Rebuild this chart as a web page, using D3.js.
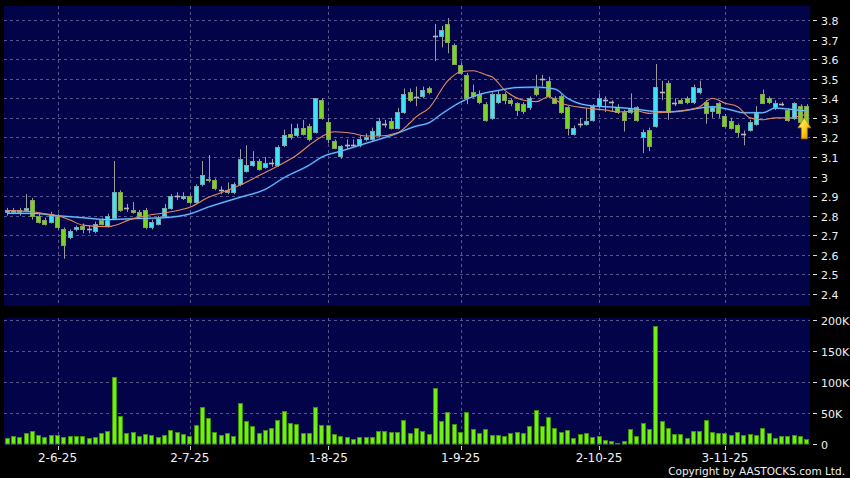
<!DOCTYPE html>
<html><head><meta charset="utf-8">
<script src="https://cdn.jsdelivr.net/npm/d3@7"></script>
<style>html,body{margin:0;padding:0;background:#000;} svg{display:block}</style>
</head><body>
<svg id="c" width="850" height="478"></svg>
<script>
// ---------- DATA ----------
const openP = [2.82,2.82,2.83,2.83,2.88,2.80,2.78,2.77,2.80,2.73, 2.69,2.73,2.75,2.73,2.72,2.78,2.75,2.79,2.92,2.84,
 2.83,2.82,2.83,2.74,2.76,2.80,2.84,2.90,2.89,2.90, 2.87,2.96,2.99,2.98,2.93,2.93,2.92,2.96,3.03,3.06,
 3.08,3.05,3.07,3.06,3.16,3.22,3.21,3.25,3.26,3.23, 3.39,3.28,3.18,3.105,3.16,3.16,3.16,3.19,3.19,3.21,
 3.27,3.285,3.25,3.33,3.43,3.405,3.41,3.45,3.72,3.72, 3.78,3.67,3.57,3.52,3.43,3.42,3.37,3.30,3.38,3.42,
 3.39,3.375,3.37,3.355,3.45,3.50,3.49,3.40,3.41,3.355, 3.22,3.27,3.27,3.29,3.36,3.39,3.38,3.355,3.33,3.33,
 3.355,3.20,3.24,3.26,3.43,3.48,3.375,3.39,3.40,3.38, 3.43,3.38,3.335,3.375,3.31,3.285,3.265,3.22,3.24,3.27,
 3.42,3.40,3.355,3.37,3.34,3.30,3.36,3.36];
const highP = [2.84,2.84,2.84,2.91,2.89,2.81,2.79,2.82,2.81,2.74, 2.73,2.75,2.76,2.75,2.77,2.79,2.81,3.08,2.93,2.86,
 2.87,2.83,2.84,2.78,2.80,2.86,2.91,2.92,2.92,2.91, 2.96,3.08,3.11,2.99,2.95,2.97,2.97,3.14,3.16,3.13,
 3.09,3.10,3.09,3.16,3.24,3.27,3.27,3.29,3.27,3.40, 3.40,3.30,3.19,3.16,3.19,3.19,3.21,3.22,3.25,3.30,
 3.29,3.30,3.35,3.45,3.45,3.46,3.46,3.46,3.78,3.77, 3.81,3.68,3.58,3.53,3.47,3.44,3.38,3.43,3.44,3.43,
 3.40,3.38,3.38,3.41,3.52,3.52,3.51,3.41,3.42,3.36, 3.26,3.30,3.35,3.37,3.425,3.41,3.39,3.37,3.34,3.425,
 3.36,3.24,3.25,3.575,3.49,3.49,3.40,3.40,3.41,3.47, 3.49,3.39,3.36,3.38,3.32,3.30,3.27,3.235,3.29,3.36,
 3.445,3.41,3.39,3.38,3.35,3.38,3.37,3.37];
const lowP = [2.80,2.81,2.80,2.82,2.78,2.76,2.75,2.76,2.73,2.58, 2.68,2.72,2.71,2.71,2.71,2.75,2.74,2.78,2.82,2.82,
 2.81,2.79,2.73,2.73,2.75,2.79,2.83,2.88,2.88,2.86, 2.86,2.95,2.97,2.93,2.91,2.91,2.91,2.95,3.02,3.05,
 3.03,3.04,3.05,3.05,3.15,3.19,3.20,3.21,3.18,3.22, 3.29,3.17,3.14,3.09,3.14,3.15,3.15,3.18,3.18,3.20,
 3.25,3.24,3.24,3.32,3.38,3.36,3.40,3.42,3.59,3.66, 3.63,3.57,3.52,3.37,3.40,3.37,3.28,3.29,3.37,3.37,
 3.36,3.31,3.32,3.34,3.41,3.46,3.40,3.37,3.32,3.21, 3.21,3.25,3.26,3.28,3.35,3.33,3.33,3.32,3.23,3.32,
 3.28,3.12,3.13,3.25,3.39,3.29,3.36,3.37,3.37,3.37, 3.42,3.27,3.30,3.30,3.25,3.24,3.20,3.16,3.23,3.26,
 3.37,3.37,3.34,3.36,3.28,3.29,3.28,3.25];
const closeP = [2.83,2.83,2.82,2.84,2.80,2.77,2.76,2.81,2.74,2.65, 2.72,2.74,2.73,2.73,2.76,2.76,2.80,2.92,2.83,2.84,
 2.82,2.80,2.74,2.77,2.79,2.84,2.90,2.90,2.90,2.87, 2.95,3.01,2.98,2.94,2.93,2.92,2.96,3.09,3.06,3.08,
 3.04,3.07,3.07,3.15,3.21,3.20,3.25,3.22,3.19,3.40, 3.30,3.19,3.145,3.155,3.16,3.16,3.19,3.20,3.235,3.285,
 3.27,3.25,3.33,3.42,3.39,3.405,3.44,3.43,3.72,3.75, 3.69,3.575,3.53,3.40,3.41,3.38,3.29,3.42,3.42,3.39,
 3.375,3.34,3.335,3.40,3.42,3.50,3.41,3.375,3.33,3.25, 3.25,3.27,3.285,3.36,3.40,3.39,3.38,3.33,3.29,3.345,
 3.29,3.23,3.155,3.46,3.43,3.33,3.375,3.375,3.38,3.46, 3.45,3.325,3.355,3.325,3.26,3.25,3.23,3.22,3.28,3.33,
 3.375,3.38,3.375,3.37,3.29,3.375,3.28,3.27];
const volumeK = [9,12,10,17,20,14,10,14.5,14,10, 12.5,11.5,12,8.5,10,17.5,20.5,108,44.5,16.5,
 19,12,16,13,10,13,21,18,15,11.5, 29.5,58.5,41,19,13,17,11.5,65,36,28,
 16.5,21,25,37.5,52.5,33,31.5,17.5,16.5,59, 29.5,30.5,15,11.5,10,7,10,11,11,19.5,
 19.5,18,18,37.5,16.5,25,20.5,15,90,36.5, 51.5,32,18,50.5,24,16.5,23.5,14.5,13,11.5,
 17.5,18.5,17.5,28,53.5,29,43,24.5,18,21.5, 9,15,16.5,10.5,12.5,5.5,4,1.5,3.5,23,
 12,33,24,190,36,25.5,15,16,9,19.5, 20.5,37.5,18.5,17.5,17.5,13,18,14.5,16,14,
 24.5,17,9,11.5,11.5,14.5,12.5,7];
// moving averages read at selected candle indices
const maFastIdx = [0,4,6,8,10,12,16,20,22,26,29,32,35,37,40,43,46,48,50,52,55,57,59,62,64,65,67,70,72,74,76,77,79,82,84,86,88,92,95,97,100,102,105,107,110,112,114,116,118,120,122,124,127];
const maFastVal = [2.826,2.82,2.81,2.80,2.778,2.752,2.744,2.785,2.80,2.82,2.843,2.894,2.93,2.957,3.005,3.054,3.11,3.161,3.205,3.229,3.22,3.207,3.207,3.224,3.275,3.306,3.35,3.49,3.536,3.541,3.52,3.51,3.442,3.39,3.383,3.408,3.375,3.35,3.34,3.33,3.335,3.323,3.33,3.335,3.357,3.40,3.375,3.357,3.30,3.29,3.30,3.30,3.32];
const maSlowIdx = [0,4,8,12,16,20,25,29,32,37,41,44,48,50,53,57,61,65,67,69,72,75,78,81,84,87,89,92,95,97,100,102,105,107,110,112,115,117,120,122,124,127];
const maSlowVal = [2.812,2.812,2.80,2.79,2.78,2.785,2.79,2.809,2.845,2.894,2.935,2.995,3.059,3.10,3.13,3.17,3.21,3.258,3.275,3.32,3.38,3.42,3.44,3.455,3.457,3.447,3.40,3.365,3.357,3.353,3.344,3.335,3.33,3.335,3.35,3.357,3.34,3.326,3.326,3.35,3.345,3.335];
const xTickIdx = [8,29,51,72,94,114];
const xTickLabels = ["2-6-25","2-7-25","1-8-25","1-9-25","2-10-25","3-11-25"];
const priceTicks = [2.4,2.5,2.6,2.7,2.8,2.9,3.0,3.1,3.2,3.3,3.4,3.5,3.6,3.7,3.8];
const volTicks = [0,50,100,150,200];
const volTickLabels = ["0","50K","100K","150K","200K"];

// ---------- CHART ----------
const svg = d3.select("#c");
const W = 850, H = 478;
const L = 4, R = 810, pT = 6, pB = 306, vT = 318, vB = 445;
const n = openP.length;
const FONT = "DejaVu Sans, Verdana, sans-serif";
const GRID = "#56568c";
const PANEL = "#03034a";
const UP = "#3fe2f2", DOWN = "#78d61e", FLAT = "#b8b8b8";

svg.append("rect").attr("width", W).attr("height", H).attr("fill", "#000");
svg.append("rect").attr("x", L).attr("y", pT).attr("width", R - L).attr("height", pB - pT).attr("fill", PANEL);
svg.append("rect").attr("x", L).attr("y", vT).attr("width", R - L).attr("height", vB - vT).attr("fill", PANEL);

const x = d3.scaleBand().domain(d3.range(n)).range([L, R]).paddingInner(0.2).paddingOuter(0.1);
const cx = i => x(i) + x.bandwidth() / 2;
const xl = d3.scaleLinear().domain([0, n - 1]).range([cx(0), cx(n - 1)]);
const y = d3.scaleLinear().domain([2.4, 3.8]).range([294, 20]);
const yv = d3.scaleLinear().domain([0, 200]).range([443.5, 319.5]);
const px = v => Math.round(v) + 0.5;

// grid
const g = svg.append("g").attr("stroke", GRID).attr("stroke-dasharray", "3,3").attr("stroke-width", 1);
priceTicks.forEach(t => g.append("line").attr("x1", L).attr("x2", R).attr("y1", px(y(t))).attr("y2", px(y(t))));
volTicks.filter(t => t > 0).forEach(t => g.append("line").attr("x1", L).attr("x2", R).attr("y1", px(yv(t))).attr("y2", px(yv(t))));
xTickIdx.forEach(i => {
  g.append("line").attr("x1", px(cx(i))).attr("x2", px(cx(i))).attr("y1", pT).attr("y2", pB);
  g.append("line").attr("x1", px(cx(i))).attr("x2", px(cx(i))).attr("y1", vT).attr("y2", vB);
});

// candles
const cg = svg.append("g");
d3.range(n).forEach(i => {
  const o = openP[i], c = closeP[i], h = highP[i], l = lowP[i];
  const xc = px(cx(i));
  cg.append("line").attr("x1", xc).attr("x2", xc).attr("y1", y(h)).attr("y2", y(l))
    .attr("stroke", "#9c9c9c").attr("stroke-width", 1);
  const bx = Math.round(cx(i) - 2.5);
  if (o === c) {
    cg.append("line").attr("x1", bx).attr("x2", bx + 5).attr("y1", px(y(o))).attr("y2", px(y(o)))
      .attr("stroke", FLAT).attr("stroke-width", 1.6);
  } else {
    const top = Math.round(y(Math.max(o, c))), bot = Math.round(y(Math.min(o, c)));
    cg.append("rect").attr("x", bx + 0.5).attr("y", top + 0.5).attr("width", 4)
      .attr("height", Math.max(1, bot - top - 1 + 1))
      .attr("fill", c > o ? UP : DOWN).attr("stroke", c > o ? "#6fa8b0" : "#83a060").attr("stroke-width", 1);
  }
});

// moving averages
const line = d3.line().x(d => xl(d[0])).y(d => y(d[1])).curve(d3.curveMonotoneX);
svg.append("path").datum(maSlowIdx.map((k, j) => [k, maSlowVal[j]]))
  .attr("d", line).attr("fill", "none").attr("stroke", "#2f8fe8").attr("stroke-width", 2).attr("opacity", 0.55);
svg.append("path").datum(maSlowIdx.map((k, j) => [k, maSlowVal[j]]))
  .attr("d", line).attr("fill", "none").attr("stroke", "#7cc8ff").attr("stroke-width", 1);
svg.append("path").datum(maFastIdx.map((k, j) => [k, maFastVal[j]]))
  .attr("d", line).attr("fill", "none").attr("stroke", "#e58a5c").attr("stroke-width", 1.1);

// arrow at last candle
const defs = svg.append("defs");
const grad = defs.append("linearGradient").attr("id", "ag").attr("x1", "0").attr("y1", "0").attr("x2", "1").attr("y2", "1");
grad.append("stop").attr("offset", "0").attr("stop-color", "#fff59a");
grad.append("stop").attr("offset", "0.5").attr("stop-color", "#ffd21e");
grad.append("stop").attr("offset", "1").attr("stop-color", "#d68a00");
const ax = cx(n - 1) - 2.5, at = y(3.30);
svg.append("path")
  .attr("d", `M${ax},${at} L${ax + 6.5},${at + 10} L${ax + 3},${at + 10} L${ax + 3},${at + 21} L${ax - 3},${at + 21} L${ax - 3},${at + 10} L${ax - 6.5},${at + 10} Z`)
  .attr("fill", "url(#ag)").attr("stroke", "#b07800").attr("stroke-width", 0.7);

// volume bars
const vg = svg.append("g");
d3.range(n).forEach(i => {
  const bx = Math.round(cx(i) - 2.5);
  const top = Math.round(yv(volumeK[i]));
  vg.append("rect").attr("x", bx + 0.5).attr("y", top + 0.5).attr("width", 4)
    .attr("height", Math.max(0.5, Math.round(yv(0)) - top - 0.5))
    .attr("fill", "#6ef012").attr("stroke", "#3f8e0a").attr("stroke-width", 1);
});

// right axes
const ta = svg.append("g").attr("font-family", FONT).attr("font-size", 11).attr("fill", "#f0f0f0");
priceTicks.forEach(t => {
  const yy = px(y(t));
  ta.append("line").attr("x1", 813).attr("x2", 817).attr("y1", yy).attr("y2", yy).attr("stroke", "#ddd");
  ta.append("text").attr("x", 821).attr("y", yy + 4).text(d3.format("~g")(t));
});
volTicks.forEach((t, j) => {
  const yy = px(yv(t));
  ta.append("line").attr("x1", 813).attr("x2", 817).attr("y1", yy).attr("y2", yy).attr("stroke", "#ddd");
  ta.append("text").attr("x", 821).attr("y", yy + 4).text(volTickLabels[j]);
});

// bottom axis
const ba = svg.append("g").attr("font-family", FONT).attr("font-size", 12).attr("fill", "#f0f0f0");
xTickIdx.forEach((i, j) => {
  ba.append("line").attr("x1", px(cx(i))).attr("x2", px(cx(i))).attr("y1", 446).attr("y2", 450).attr("stroke", "#ccc");
  ba.append("text").attr("x", cx(i)).attr("y", 462).attr("text-anchor", "middle").text(xTickLabels[j]);
});
svg.append("text").attr("x", 845).attr("y", 475).attr("text-anchor", "end")
  .attr("font-family", FONT).attr("font-size", 10.5).attr("fill", "#f0f0f0")
  .text("Copyright by AASTOCKS.com Ltd.");
</script>
</body></html>
